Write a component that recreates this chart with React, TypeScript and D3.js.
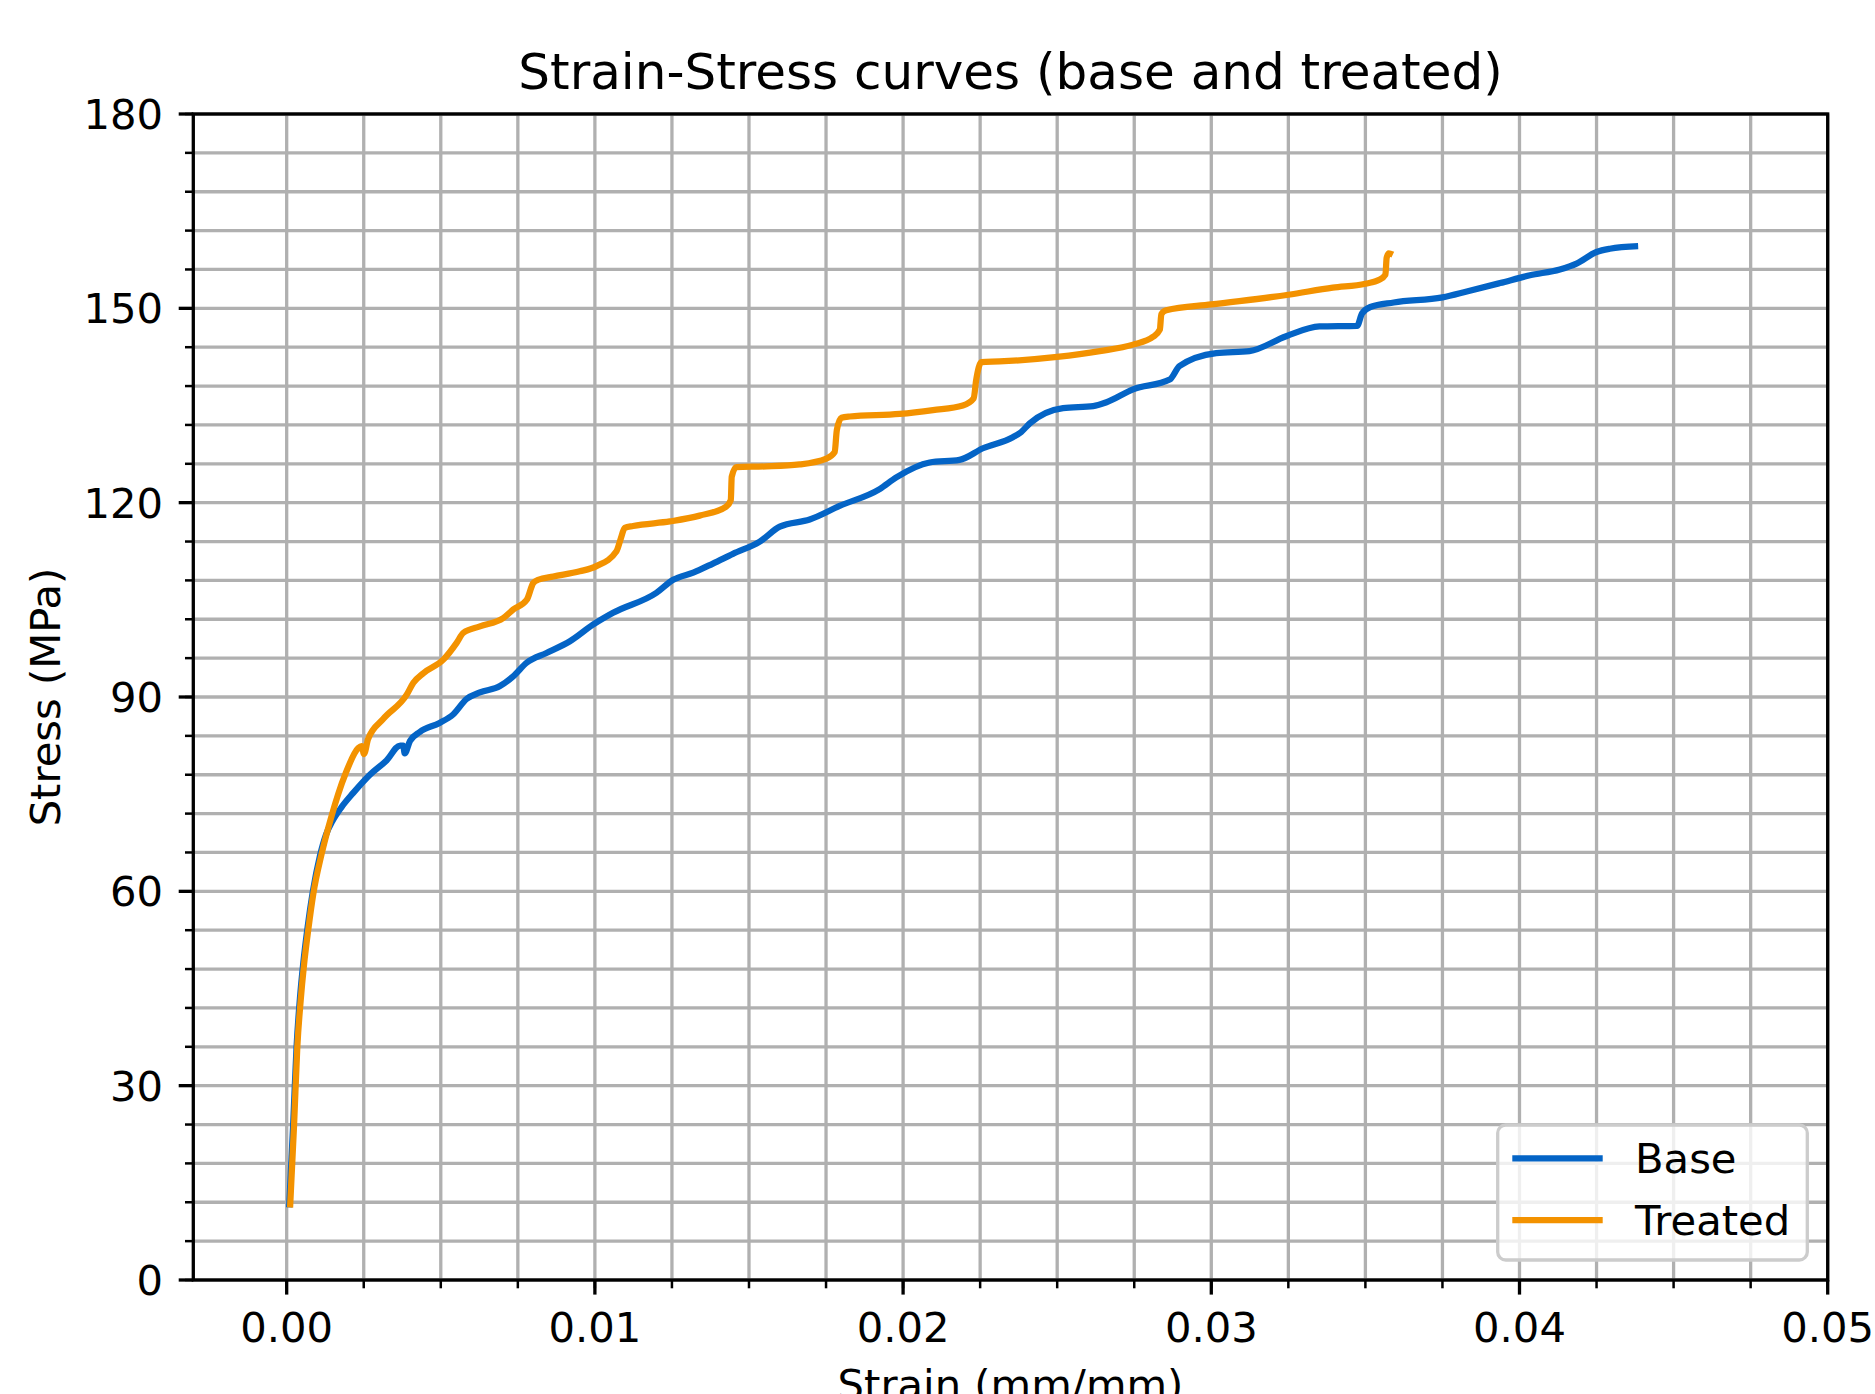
import * as d3 from "d3";

// strain (mm/mm) and stress (MPa)
const baseStrain = [
  0.00008, 0.00021, 0.00032, 0.00043, 0.00054, 0.00068, 0.00085, 0.00108, 0.00128, 0.00148,
  0.00178, 0.00216, 0.0027, 0.00324, 0.00368, 0.00378, 0.00383, 0.004, 0.00432, 0.00496, 0.0054,
  0.00584, 0.00627, 0.00692, 0.00735, 0.00779, 0.00843, 0.00919, 0.00995, 0.01059, 0.012,
  0.01254, 0.01319, 0.01383, 0.01448, 0.01535, 0.016, 0.01697, 0.01794, 0.01924, 0.01978,
  0.02086, 0.02183, 0.02259, 0.02356, 0.02383, 0.0241, 0.02519, 0.02617, 0.0266, 0.02746,
  0.02865, 0.02897, 0.03016, 0.03124, 0.03243, 0.03351, 0.03473, 0.03489, 0.03516, 0.03592,
  0.0375, 0.03829, 0.03937, 0.04034, 0.04131, 0.04185, 0.0425, 0.04293, 0.04385,
];
const baseStress = [
  11.2, 24, 36, 43.5, 49, 54.5, 60, 65.5, 68.8, 70.8,
  73, 75.2, 78, 80.2, 82.5, 82.5, 81.3, 83.2, 84.6, 86, 87.3,
  89.7, 90.7, 91.7, 93.2, 95.3, 96.8, 98.6, 101.2, 103, 106.1,
  108.1, 109.2, 110.6, 112.1, 114, 116.3, 117.4, 119.5, 122.1, 123.9,
  126.2, 126.6, 128.4, 130.1, 130.9, 132.2, 134.6, 134.9, 135.5, 137.5,
  139, 141.1, 143.1, 143.4, 145.7, 147.2, 147.3, 149.2, 150.2, 150.9,
  151.7, 152.6, 153.9, 155.1, 156, 156.9, 158.7, 159.2, 159.6,
];

const treatedStrain = [
  0.00011, 0.00024, 0.000345, 0.000453, 0.000561, 0.000701, 0.000863, 0.00113, 0.00146, 0.00167,
  0.00192, 0.00232, 0.00243, 0.00251, 0.00264, 0.00313, 0.0039, 0.00411, 0.00444, 0.00509,
  0.00552, 0.00573, 0.00627, 0.00703, 0.00735, 0.00779, 0.008, 0.00816, 0.00865, 0.00951,
  0.01005, 0.0107, 0.01083, 0.01097, 0.01124, 0.01243, 0.0134, 0.01426, 0.01441, 0.01444,
  0.01459, 0.01556, 0.01664, 0.01751, 0.01778, 0.01785, 0.018, 0.01827, 0.01989, 0.02097,
  0.02194, 0.02229, 0.02237, 0.02254, 0.02313, 0.025, 0.02638, 0.02746, 0.02811, 0.02833,
  0.02838, 0.02854, 0.03, 0.0325, 0.03394, 0.035, 0.03545, 0.03565, 0.03569, 0.03576, 0.03589,
];
const treatedStress = [
  11.2, 24, 36, 43.1, 48.6, 54.1, 59.6, 65.7, 71.7, 75,
  78.3, 82.1, 82.4, 81.2, 83.5, 86.6, 90.4, 92.2, 93.7, 95.8,
  98.4, 99.9, 100.9, 102.2, 103.5, 105, 107.6, 108.1, 108.6, 109.4,
  110.2, 112.5, 114.3, 116.1, 116.4, 117.1, 118, 119.4, 120.4, 124,
  125.5, 125.6, 125.9, 126.8, 127.8, 131.2, 133.1, 133.3, 133.7, 134.3,
  135, 136.1, 138.9, 141.7, 141.8, 142.5, 143.4, 144.4, 145.6, 146.7,
  149.1, 149.7, 150.6, 152.1, 153.2, 153.8, 154.4, 155.2, 157.8, 158.5, 158.3,
];

const xTicks = [0, 0.01, 0.02, 0.03, 0.04, 0.05];
const yTicks = [0, 30, 60, 90, 120, 150, 180];
const seriesNames = ["Base", "Treated"];
const seriesColors = ["#0464c6", "#f39200"];

const W = 1875;
const H = 1394;
const left = 193.3;
const right = 1827.7;
const top = 114;
const bottom = 1280;
const font = "'DejaVu Sans', sans-serif";

export default function App() {
  const x = d3.scaleLinear().domain([-0.00303, 0.05]).range([left, right]);
  const y = d3.scaleLinear().domain([0, 180]).range([bottom, top]);
  const xMinor = d3.range(0, 0.05001, 0.0025);
  const yMinor = d3.range(0, 180.01, 6);

  const line = d3
    .line<[number, number]>()
    .x((d) => x(d[0]))
    .y((d) => y(d[1]))
    .curve(d3.curveMonotoneX);

  const series = [
    d3.zip(baseStrain, baseStress) as [number, number][],
    d3.zip(treatedStrain, treatedStress) as [number, number][],
  ];

  const grid = "#b0b0b0";
  const legendX = 1497.7;
  const legendY = 1125;

  return (
    <svg
      width={W}
      height={H}
      viewBox={`0 0 ${W} ${H}`}
      style={{ position: "absolute", left: 0, top: 0, background: "#fff" }}
      fontFamily={font}
    >
      <rect width={W} height={H} fill="#fff" />

      {/* grid */}
      {xMinor.map((v) => (
        <line key={"gx" + v} x1={x(v)} x2={x(v)} y1={top} y2={bottom} stroke={grid} strokeWidth={3.3} />
      ))}
      {yMinor.map((v) => (
        <line key={"gy" + v} x1={left} x2={right} y1={y(v)} y2={y(v)} stroke={grid} strokeWidth={3.3} />
      ))}

      {/* curves */}
      <defs>
        <clipPath id="plot">
          <rect x={left} y={top} width={right - left} height={bottom - top} />
        </clipPath>
      </defs>
      <g clipPath="url(#plot)">
        {series.map((s, i) => (
          <path
            key={seriesNames[i]}
            d={line(s) ?? undefined}
            fill="none"
            stroke={seriesColors[i]}
            strokeWidth={6.25}
            strokeLinejoin="round"
            strokeLinecap="butt"
          />
        ))}
      </g>

      {/* spines */}
      <rect x={left} y={top} width={right - left} height={bottom - top} fill="none" stroke="#000" strokeWidth={3.3} />

      {/* x ticks */}
      {xMinor.map((v) => (
        <line key={"xm" + v} x1={x(v)} x2={x(v)} y1={bottom} y2={bottom + 8.3} stroke="#000" strokeWidth={2.5} />
      ))}
      {xTicks.map((v) => (
        <g key={"xt" + v}>
          <line x1={x(v)} x2={x(v)} y1={bottom} y2={bottom + 14.6} stroke="#000" strokeWidth={3.3} />
          <text x={x(v)} y={1342} textAnchor="middle" fontSize={41.7} fill="#000">
            {d3.format(".2f")(v)}
          </text>
        </g>
      ))}

      {/* y ticks */}
      {yMinor.map((v) => (
        <line key={"ym" + v} x1={left - 8.3} x2={left} y1={y(v)} y2={y(v)} stroke="#000" strokeWidth={2.5} />
      ))}
      {yTicks.map((v) => (
        <g key={"yt" + v}>
          <line x1={left - 14.6} x2={left} y1={y(v)} y2={y(v)} stroke="#000" strokeWidth={3.3} />
          <text x={163} y={y(v) + 15} textAnchor="end" fontSize={41.7} fill="#000">
            {v}
          </text>
        </g>
      ))}

      {/* labels */}
      <text x={(left + right) / 2} y={89} textAnchor="middle" fontSize={50} fill="#000">
        Strain-Stress curves (base and treated)
      </text>
      <text x={(left + right) / 2} y={1399} textAnchor="middle" fontSize={41.7} fill="#000">
        Strain (mm/mm)
      </text>
      <text
        transform={`translate(60, ${(top + bottom) / 2}) rotate(-90)`}
        textAnchor="middle"
        fontSize={41.7}
        fill="#000"
      >
        Stress (MPa)
      </text>

      {/* legend */}
      <rect
        x={legendX}
        y={legendY}
        width={309.6}
        height={135}
        rx={8}
        fill="#fff"
        fillOpacity={0.8}
        stroke="#cccccc"
        strokeWidth={3.3}
      />
      {seriesNames.map((name, i) => (
        <g key={"lg" + name}>
          <line
            x1={1512.3}
            x2={1602.7}
            y1={1158.3 + i * 61.7}
            y2={1158.3 + i * 61.7}
            stroke={seriesColors[i]}
            strokeWidth={6.25}
          />
          <text x={1635} y={1173.3 + i * 61.7} fontSize={41.7} fill="#000">
            {name}
          </text>
        </g>
      ))}
    </svg>
  );
}
